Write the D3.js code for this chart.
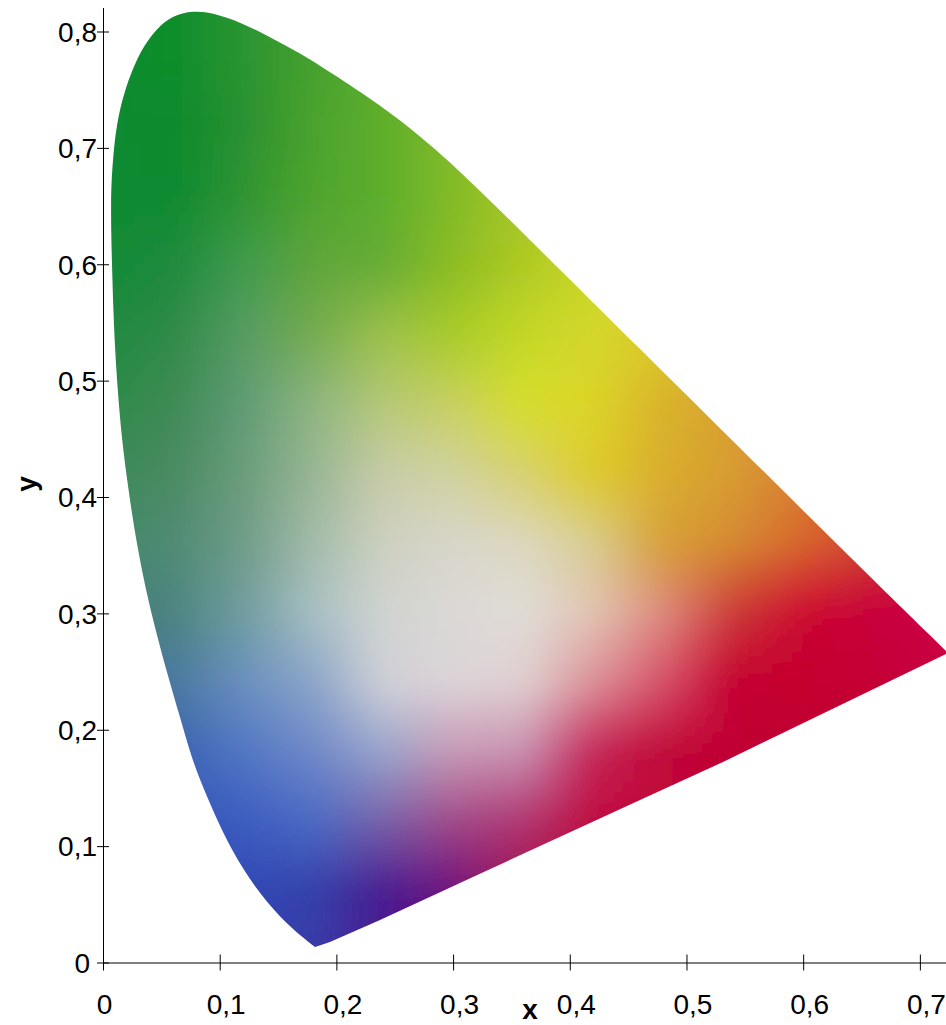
<!DOCTYPE html>
<html lang="en">
<head>
<meta charset="utf-8">
<title>Chromaticity diagram</title>
<script src="https://cdn.jsdelivr.net/npm/d3@7"></script>
<style>
  body { margin: 0; background: #fff; }
  svg { display: block; }
  text { font-family: "Liberation Sans", Arial, sans-serif; fill: #000; }
  .axis path, .axis line { stroke: #000; stroke-width: 1; fill: none; }
  .axis text { font-size: 28px; }
  .title { font-size: 28px; font-weight: bold; }
</style>
</head>
<body>
<script>
// tick values
var xTicks = [0, 0.1, 0.2, 0.3, 0.4, 0.5, 0.6, 0.7];
var yTicks = [0, 0.1, 0.2, 0.3, 0.4, 0.5, 0.6, 0.7, 0.8];

// spectral edge of the horseshoe, from the bottom tip round to the red corner
var locusX = [0.1817, 0.1628, 0.1405, 0.1200, 0.1028, 0.0891, 0.0763, 0.0660, 0.0548, 0.0428, 0.0343, 0.0274, 0.0231, 0.0171, 0.0129, 0.0094, 0.0077, 0.0064, 0.0083, 0.0117, 0.0180, 0.0257, 0.0343, 0.0463, 0.0591, 0.0771, 0.0943, 0.1174, 0.1431, 0.1688, 0.1945, 0.2374, 0.2716, 0.3059, 0.3573, 0.3710, 0.4602, 0.5458, 0.6315, 0.7241];
var locusY = [0.0133, 0.0279, 0.0511, 0.0795, 0.1113, 0.1422, 0.1740, 0.2110, 0.2488, 0.2943, 0.3313, 0.3691, 0.3974, 0.4404, 0.4859, 0.5409, 0.5976, 0.6552, 0.6896, 0.7214, 0.7472, 0.7687, 0.7867, 0.8030, 0.8133, 0.8180, 0.8159, 0.8082, 0.7953, 0.7815, 0.7652, 0.7369, 0.7103, 0.6801, 0.6294, 0.6157, 0.5272, 0.4421, 0.3570, 0.2660];

// purple line, red corner back to the bottom tip
var purpleX = [0.7241, 0.5313, 0.4602, 0.3170, 0.2374, 0.1945, 0.1817];
var purpleY = [0.2660, 0.1723, 0.1396, 0.0735, 0.0365, 0.0176, 0.0133];

// colour samples
var gridX = [0, 0.06, 0.12, 0.18, 0.24, 0.30, 0.36, 0.42, 0.48, 0.54, 0.60, 0.66, 0.72];
var gridY = [0.84, 0.78, 0.72, 0.66, 0.60, 0.54, 0.48, 0.42, 0.36, 0.30, 0.24, 0.18, 0.12, 0.06, 0];
var gridColors = [
  ["#0c8a2e","#0e8e2c","#2a9430","#4aa42e","#60b02c","#82bc28","#a8c824","#c8d428","#d8cc2a","#d8b02c","#d88030","#cc2038","#c80046"],
  ["#0c8a2e","#0e8e2c","#2a9430","#46a02e","#5cae2c","#7eb92a","#a0c626","#c4d228","#d8cc2a","#d8b02c","#d88030","#cc2038","#c80046"],
  ["#0a8a30","#0b8a2e","#2a9030","#4aa32e","#5fae2c","#80ba2a","#a2c726","#c6d428","#d8cc2a","#d8b02c","#d88030","#cc2038","#c80046"],
  ["#0c8a30","#0f8a30","#2f9430","#4ea42e","#5cae2c","#82bb28","#a8c626","#c8d428","#d8cc2a","#d8b02c","#d88030","#cc2038","#c80046"],
  ["#148a38","#1f8a3c","#3f9a4f","#5fa53c","#66ad34","#8cbc24","#aec924","#cad628","#dacc2a","#d8b02c","#d88030","#cc2038","#c80046"],
  ["#208a40","#2f8a48","#579b63","#74ab50","#9dc04c","#a8cc28","#c4d828","#d4d82a","#dcc82a","#d8b02c","#d88030","#cc2038","#c80046"],
  ["#2c8a48","#3e8a55","#5f9b74","#8eb581","#b5c878","#c8d060","#d6de2a","#dcd428","#d9b22c","#d8a030","#d88030","#cc2038","#c80046"],
  ["#3a8a58","#4a8a62","#6a9c7c","#98b594","#c8cca8","#d0d2a0","#d8d070","#ddcb2a","#d9ae2e","#d89c30","#d88030","#d06030","#c80046"],
  ["#408a68","#508a74","#6f9c88","#a3bba9","#cdd0c0","#d8d6cc","#dcd8c0","#d8cc90","#d8a038","#d58a30","#d8662f","#d04030","#c80046"],
  ["#457c7c","#4c8480","#6f9da0","#a8bfc4","#d0d4d0","#dcd8d6","#e0dcd8","#e2c4b4","#dd8a80","#cc3a38","#cc0a30","#c8003c","#cb0048"],
  ["#4270a0","#4a78a0","#6a8fc0","#8aa4c8","#d0d0d8","#dcd4d8","#e0d0d0","#dc9098","#d65068","#c40030","#c4002e","#c40034","#c80040"],
  ["#3a60b0","#3a62b0","#5076c4","#6f88c8","#98a4cc","#c898b4","#c890b0","#c42458","#c00838","#c00034","#c00034","#c40034","#c80040"],
  ["#3454bc","#3454bc","#3c5cc0","#4a6ac4","#7860a8","#a04888","#b03470","#c00c40","#c00838","#c00034","#c00034","#c40034","#c80040"],
  ["#3048b4","#3048b4","#2f48b4","#3440aa","#481c90","#70107c","#a8104c","#a8103c","#c00838","#c00034","#c00034","#c40034","#c80040"],
  ["#3a3ca8","#3a3ca8","#3a3ca8","#3a3ca8","#481c90","#70107c","#a8104c","#a8103c","#c00838","#c00034","#c00034","#c40034","#c80040"]
];

var w = 946;
var h = 1025;
var steps = 7; // sub cells per colour sample, so the field has no visible blocks

var x = d3.scaleLinear().domain([0, 0.7224]).range([103, 946]);
var y = d3.scaleLinear().domain([0, 0.8]).range([962.5, 31.5]);

var svg = d3.select("body").append("svg")
  .attr("width", w)
  .attr("height", h);

var defs = svg.append("defs");

defs.append("filter")
  .attr("id", "soft")
  .attr("filterUnits", "userSpaceOnUse")
  .attr("x", -100).attr("y", -150)
  .attr("width", w + 200).attr("height", h + 300)
  .append("feGaussianBlur")
  .attr("stdDeviation", 13);

// outline
var line = d3.line()
  .x(function(d) { return x(d[0]); })
  .y(function(d) { return y(d[1]); });

var upper = line.curve(d3.curveBasis)(d3.zip(locusX, locusY));
var lower = line.curve(d3.curveLinear)(d3.zip(purpleX, purpleY));

defs.append("clipPath")
  .attr("id", "locus")
  .append("path")
  .attr("d", upper + lower.replace("M", "L") + "Z");

// colour field: blends the samples cell by cell
var coarse = [];
gridY.forEach(function(gy, r) {
  gridX.forEach(function(gx, c) {
    coarse.push({ x0: gx - 0.03, x1: gx + 0.03, y0: gy + 0.03, y1: gy - 0.03, color: gridColors[r][c] });
  });
});

var mesh = [];
d3.range(gridY.length - 1).forEach(function(r) {
  d3.range(gridX.length - 1).forEach(function(c) {
    var left = d3.interpolateRgb(gridColors[r][c], gridColors[r + 1][c]);
    var right = d3.interpolateRgb(gridColors[r][c + 1], gridColors[r + 1][c + 1]);
    var dx = (gridX[c + 1] - gridX[c]) / steps;
    var dy = (gridY[r + 1] - gridY[r]) / steps;
    d3.range(steps).forEach(function(j) {
      d3.range(steps).forEach(function(i) {
        var across = d3.interpolateRgb(left((j + 0.5) / steps), right((j + 0.5) / steps));
        mesh.push({
          x0: gridX[c] + i * dx,
          x1: gridX[c] + (i + 1) * dx,
          y0: gridY[r] + j * dy,
          y1: gridY[r] + (j + 1) * dy,
          color: across((i + 0.5) / steps)
        });
      });
    });
  });
});

svg.append("g")
  .attr("clip-path", "url(#locus)")
  .append("g")
  .attr("filter", "url(#soft)")
  .selectAll("rect")
  .data(coarse.concat(mesh))
  .enter()
  .append("rect")
  .attr("x", function(d) { return x(d.x0); })
  .attr("y", function(d) { return y(d.y0); })
  .attr("width", function(d) { return x(d.x1) - x(d.x0) + 0.5; })
  .attr("height", function(d) { return y(d.y1) - y(d.y0) + 0.5; })
  .attr("fill", function(d) { return d.color; });

// axes
function comma(d) { return d === 0 ? "0" : d3.format(".1f")(d).replace(".", ","); }

var xAxis = svg.append("g")
  .attr("class", "axis")
  .attr("transform", "translate(0,962.5)")
  .call(d3.axisBottom(x).tickValues(xTicks).tickFormat(comma).tickSizeOuter(0));

xAxis.selectAll(".tick line").attr("y1", -8).attr("y2", 8);
xAxis.selectAll(".tick text")
  .attr("y", 51)
  .attr("dy", 0)
  .attr("dx", function(d) { return d === 0 ? 1 : 6; });

var yAxis = svg.append("g")
  .attr("class", "axis")
  .attr("transform", "translate(103,0)")
  .call(d3.axisLeft(y).tickValues(yTicks).tickFormat(comma).tickSizeOuter(0));

yAxis.select(".domain").attr("d", "M0.5,8V970");
yAxis.selectAll(".tick line").attr("x1", -6).attr("x2", 6);
yAxis.selectAll(".tick text")
  .attr("x", function(d) { return d === 0 ? -13 : -6; })
  .attr("dy", "0.35em");

// axis titles
svg.append("text")
  .attr("class", "title")
  .attr("x", 530)
  .attr("y", 1019)
  .attr("text-anchor", "middle")
  .text("x");

svg.append("text")
  .attr("class", "title")
  .attr("transform", "translate(36,484) rotate(-90)")
  .attr("text-anchor", "middle")
  .text("y");
</script>
</body>
</html>
